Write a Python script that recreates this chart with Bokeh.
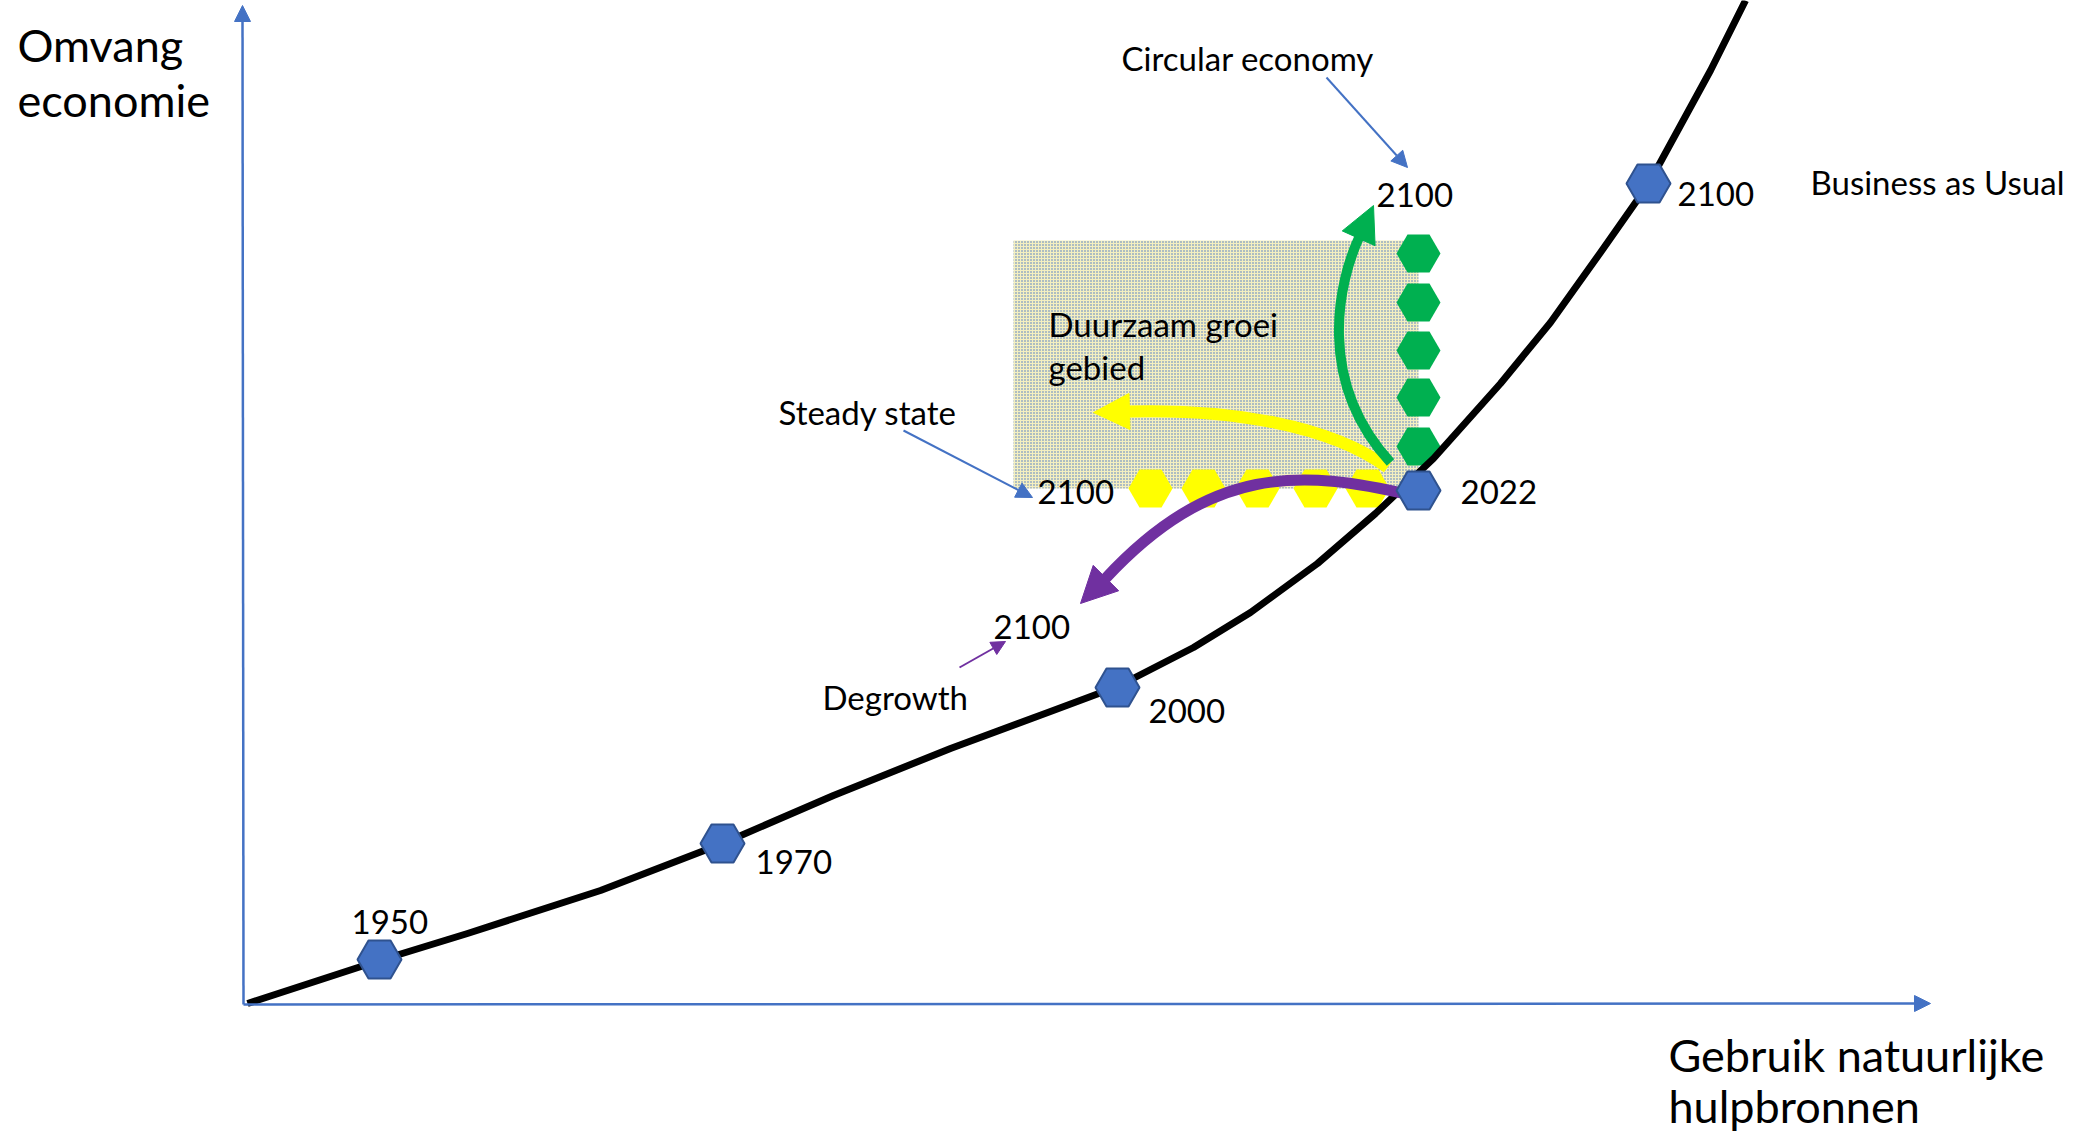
from bokeh.plotting import figure
from bokeh.models import Range1d, Arrow, NormalHead
from bokeh.embed import file_html
from bokeh.resources import INLINE
from bokeh.core.properties import value

# ---------------- data (arbitrary units: x = use of natural resources, y = size of economy)
bau_resource = [4, 136, 224, 357, 479, 590, 707, 807, 874, 950, 1007, 1074, 1132, 1190, 1257, 1307, 1357, 1397, 1414, 1467, 1502]
bau_economy = [1, 44, 71, 114, 161, 209, 256, 293, 318, 357, 392, 441, 491, 546, 621, 682, 752, 809, 837, 934, 1004]

milestone_years = ["1950", "1970", "2000", "2022", "2100"]
milestone_resource = [136, 479, 874, 1175, 1405]
milestone_economy = [45, 161, 317, 514, 821]

steady_resource = [907, 960, 1014, 1072, 1124]
steady_economy = [516, 516, 516, 516, 516]

circular_resource = [1175, 1175, 1175, 1175, 1175]
circular_economy = [751, 702, 654, 607, 558]

zone_left, zone_right, zone_bottom, zone_top = [770], [1175], [516], [764]

# scenario paths (cubic bezier: start, control 1, control 2, end, arrow tip)
green_path = dict(x0=1147, y0=542, cx0=1072, cy0=624, cx1=1095, cy1=723, x1=1116, y1=768, tx=1130, ty=799)
yellow_path = dict(x0=1144, y0=537, cx0=1087, cy0=579, cx1=987, cy1=596, x1=885, y1=593, tx=850, ty=592)
purple_path = dict(x0=1169, y0=509, cx0=1057, cy0=536, cx1=967, cy1=539, x1=862, y1=426, tx=837, ty=401)

FONT = value("Lato")
BLUE = "#4472C4"
PURPLE = "#7030A0"
GREEN = "#00B050"
YELLOW = "#FFFF00"

p = figure(width=2080, height=1137, x_range=Range1d(-243, 1837), y_range=Range1d(-133, 1004),
           output_backend="svg", toolbar_location=None, min_border=0,
           x_axis_type=None, y_axis_type=None)
p.grid.visible = False
p.outline_line_color = None
p.background_fill_color = "white"

# sustainable growth zone
p.quad(left=zone_left, right=zone_right, bottom=zone_bottom, top=zone_top,
       fill_color="#F4EFC0", line_color=None,
       hatch_pattern="dot", hatch_color=BLUE, hatch_scale=3.0, hatch_weight=3.0)

p.scatter(steady_resource, steady_economy, marker="hex", size=44, fill_color=YELLOW, line_color=None)
p.scatter(circular_resource, circular_economy, marker="hex", size=44, fill_color=GREEN, line_color=None)

# business as usual curve
p.line(bau_resource, bau_economy, line_color="black", line_width=7, line_join="round")

def curved_arrow(d, color, width):
    p.bezier(x0=[d["x0"]], y0=[d["y0"]], x1=[d["x1"]], y1=[d["y1"]],
             cx0=[d["cx0"]], cy0=[d["cy0"]], cx1=[d["cx1"]], cy1=[d["cy1"]],
             line_color=color, line_width=width)
    p.add_layout(Arrow(end=NormalHead(size=36, fill_color=color, line_color=color),
                       x_start=d["x1"], y_start=d["y1"], x_end=d["tx"], y_end=d["ty"],
                       line_alpha=0))

curved_arrow(yellow_path, YELLOW, 12)
curved_arrow(green_path, GREEN, 10)
curved_arrow(purple_path, PURPLE, 11)

p.scatter(milestone_resource, milestone_economy, marker="hex", size=44,
          fill_color=BLUE, line_color="#2F528F", line_width=2)

# axes
p.add_layout(Arrow(end=NormalHead(size=16, fill_color=BLUE, line_color=BLUE),
                   x_start=0, y_start=0, x_end=-1, y_end=999, line_color=BLUE, line_width=2.5))
p.add_layout(Arrow(end=NormalHead(size=16, fill_color=BLUE, line_color=BLUE),
                   x_start=0, y_start=0, x_end=1687, y_end=1, line_color=BLUE, line_width=2.5))

# callout arrows
p.add_layout(Arrow(end=NormalHead(size=16, fill_color=BLUE, line_color=BLUE),
                   x_start=1083, y_start=927, x_end=1164, y_end=837, line_color=BLUE, line_width=2))
p.add_layout(Arrow(end=NormalHead(size=16, fill_color=BLUE, line_color=BLUE),
                   x_start=660, y_start=574, x_end=789, y_end=507, line_color=BLUE, line_width=2))
p.add_layout(Arrow(end=NormalHead(size=14, fill_color=PURPLE, line_color=PURPLE),
                   x_start=716, y_start=337, x_end=762, y_end=363, line_color=PURPLE, line_width=2))

def label(x, y, t, size="33px"):
    p.text(x=[x], y=[y], text=[t], text_font=FONT, text_font_size=size,
           text_baseline="alphabetic", text_align="left", text_color="black")

label(-226, 960, "Omvang", "45px")
label(-226, 905, "economie", "45px")
label(1425, -50, "Gebruik natuurlijke", "45px")
label(1425, -101, "hulpbronnen", "45px")

label(108, 83, milestone_years[0])
label(512, 143, milestone_years[1])
label(905, 294, milestone_years[2])
label(1217, 513, milestone_years[3])
label(1434, 811, milestone_years[4])
label(1133, 810, "2100")
label(794, 513, "2100")
label(750, 378, "2100")

label(878, 947, "Circular economy")
label(1567, 823, "Business as Usual")
label(535, 593, "Steady state")
label(579, 308, "Degrowth")
label(805, 681, "Duurzaam groei")
label(805, 638, "gebied")

open("out.html", "w").write(file_html(p, INLINE))
